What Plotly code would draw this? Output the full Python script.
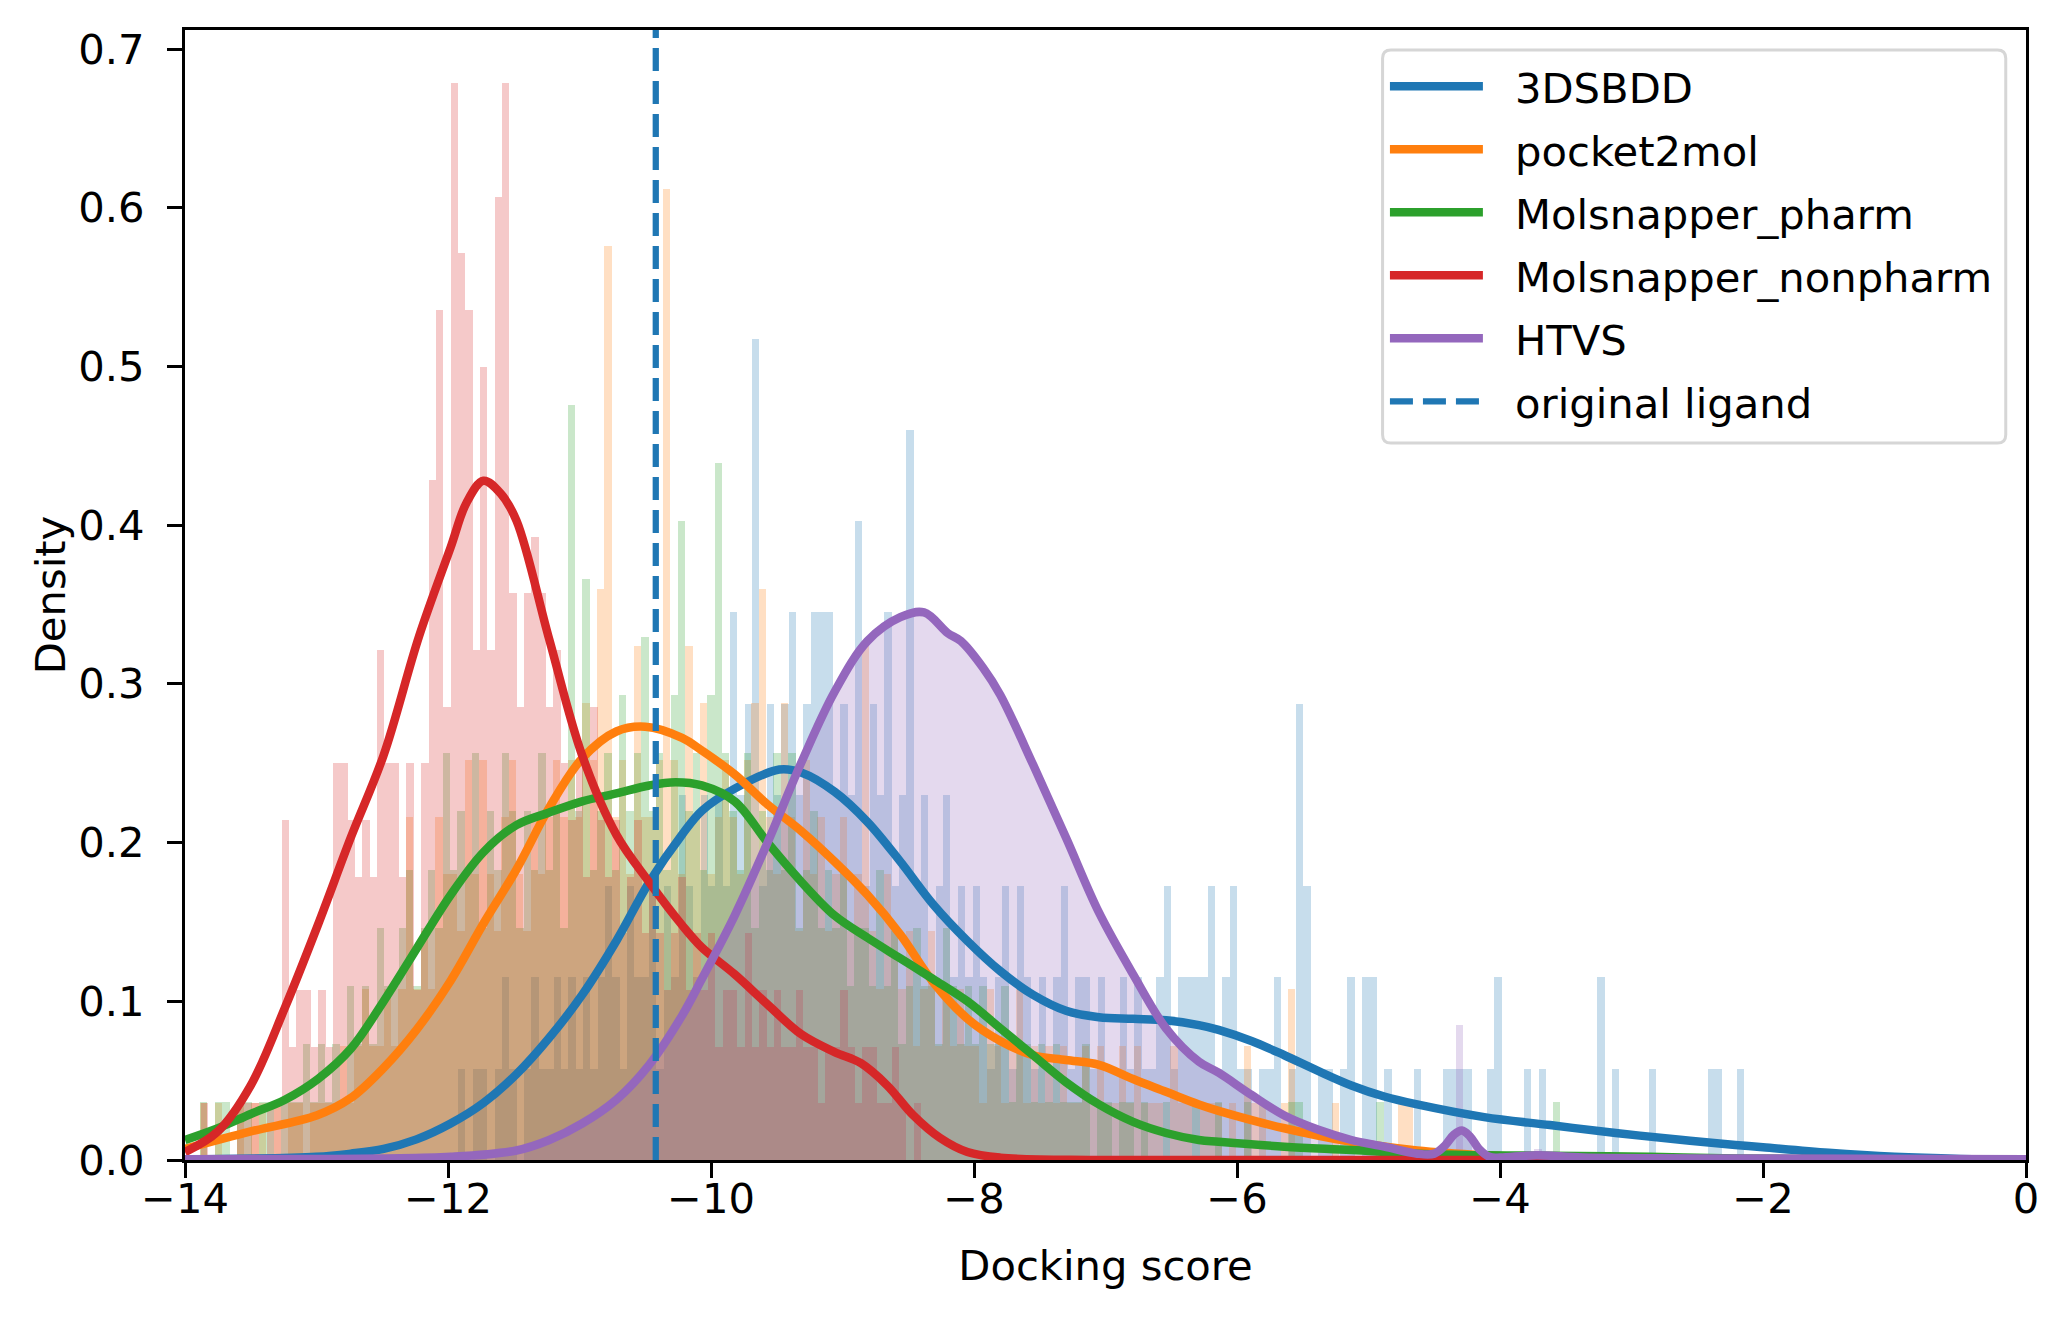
import numpy as np
import plotly.graph_objects as go

FONT = "DejaVu Sans"
FS = 41.7
Y_TOP = 0.712
BIN_W = 0.0559
ORIGINAL_LIGAND = -10.42

names = ["3DSBDD", "pocket2mol", "Molsnapper_pharm", "Molsnapper_nonpharm", "HTVS"]
colors = ["#1f77b4", "#ff7f0e", "#2ca02c", "#d62728", "#9467bd"]
fills = ["rgba(31,119,180,0.25)", "rgba(255,127,14,0.25)", "rgba(44,160,44,0.25)",
         "rgba(214,39,40,0.25)", "rgba(148,103,189,0.25)"]

# --- histograms: counts per bin (bin start, density of one count)
blue_start, blue_unit = -11.98, 0.0575
blue_counts = [
    0, 1, 0, 1, 1, 0, 1, 2, 1, 0, 1, 2, 1, 1, 2, 1, 2, 1,
    2, 1, 2, 3, 2, 1, 3, 2, 2, 3, 1, 3, 2, 4, 3, 2, 4, 3,
    4, 3, 6, 4, 5, 9, 3, 5, 4, 5, 6, 4, 5, 6, 6, 6, 4, 5,
    4, 7, 3, 5, 4, 6, 3, 4, 8, 3, 4, 2, 3, 4, 2, 3, 2, 3,
    2, 1, 2, 3, 1, 3, 2, 1, 2, 1, 2, 3, 1, 2, 2, 1, 2, 1,
    1, 2, 1, 2, 1, 1, 2, 3, 1, 2, 2, 2, 2, 3, 1, 2, 3, 1,
    1, 0, 1, 1, 2, 0, 1, 5, 3, 0, 1, 1, 0, 1, 2, 0, 2, 2,
    0, 1, 0, 0, 0, 1, 0, 0, 0, 1, 1, 1, 1, 0, 0, 1, 2, 0,
    0, 0, 1, 0, 1, 0, 0, 0, 0, 0, 0, 0, 2, 0, 1, 0, 0, 0,
    0, 1, 0, 0, 0, 0, 0, 0, 0, 1, 1, 0, 0, 1,
]

orange_start, orange_unit = -13.886, 0.036
orange_counts = [
    1, 0, 1, 0, 0, 1, 0, 1, 1, 0, 1, 0, 1, 1, 0, 1, 1, 1,
    1, 2, 1, 2, 3, 2, 2, 3, 2, 3, 6, 3, 4, 3, 6, 5, 5, 4,
    7, 5, 7, 5, 4, 6, 7, 5, 4, 6, 5, 6, 7, 6, 7, 6, 8, 7,
    10, 16, 6, 7, 5, 9, 6, 6, 7, 17, 7, 5, 9, 6, 8, 5, 6, 7,
    6, 5, 7, 8, 10, 6, 5, 8, 6, 4, 7, 5, 6, 4, 5, 6, 4, 5,
    9, 4, 3, 5, 4, 3, 4, 2, 3, 4, 2, 3, 2, 3, 2, 2, 1, 3,
    2, 1, 2, 3, 1, 2, 1, 2, 1, 2, 1, 1, 2, 1, 2, 1, 1, 2,
    1, 2, 1, 1, 1, 0, 2, 1, 1, 0, 1, 1, 1, 0, 1, 0, 2, 1,
    1, 0, 0, 1, 3, 0, 0, 0, 0, 0, 1, 0, 0, 0, 0, 0, 0, 0,
    0, 1, 1, 0,
]

green_start, green_unit = -13.885, 0.0366
green_counts = [
    1, 0, 1, 1, 0, 1, 1, 0, 1, 1, 0, 1, 1, 1, 2, 1, 2, 1,
    2, 1, 3, 2, 3, 2, 4, 3, 3, 4, 5, 3, 4, 5, 4, 7, 5, 6,
    5, 7, 4, 6, 5, 7, 6, 4, 6, 5, 7, 5, 6, 4, 13, 6, 10, 5,
    6, 7, 5, 8, 6, 7, 9, 6, 7, 5, 8, 11, 6, 7, 5, 8, 12, 7,
    6, 5, 7, 4, 6, 5, 7, 5, 7, 4, 5, 6, 4, 5, 4, 5, 3, 4,
    4, 3, 5, 3, 4, 2, 3, 4, 3, 3, 2, 4, 3, 2, 3, 2, 3, 2,
    2, 3, 1, 2, 2, 1, 2, 1, 2, 1, 1, 1, 2, 0, 1, 1, 0, 1,
    1, 0, 1, 0, 0, 1, 0, 0, 0, 1, 0, 0, 1, 0, 0, 0, 1, 0,
    0, 0, 0, 0, 1, 1, 0, 0, 0, 0, 0, 0, 0, 0, 0, 0, 1, 0,
    0, 0, 0, 0, 0, 0, 0, 0, 0, 0, 0, 0, 0, 0, 0, 0, 0, 0,
    0, 0, 0, 0, 1,
]

red_start, red_unit = -13.881, 0.0357
red_counts = [
    1, 0, 0, 0, 0, 1, 1, 1, 0, 1, 1,
    6, 2, 3, 3, 2, 3, 2, 7, 7, 6,
    5, 6, 5, 9, 7, 7, 5, 7, 3, 7,
    12, 15, 8, 19, 16, 15, 9, 14, 9, 17,
    19, 10, 8, 10, 11, 10, 8, 9, 7,
    6, 7, 5, 8, 6, 5, 6, 4, 5, 6, 4,
    5, 4, 3, 4, 5, 3, 4, 3, 4, 2,
    3, 3, 2, 4, 2, 3, 2, 3, 2, 2,
    3, 2, 2, 1, 2, 2, 3, 2, 1, 2,
    2, 1, 1, 2, 1, 0, 1,
]

# HTVS: dense sample, its histogram follows the KDE; only the stray bars stand out
purple_bar_x = [-4.31, -3.71]
purple_bar_y = [0.085, 0.007]

# --- KDE curves
blue_kde_x = [-14, -13.0, -12.74, -12.49, -12.24, -11.98, -11.73, -11.48, -11.23, -10.98,
              -10.72, -10.47, -10.22, -10.07, -9.82, -9.48, -9.31, -9.06, -8.81, -8.56,
              -8.31, -8.05, -7.8, -7.55, -7.3, -7.05, -6.79, -6.54, -6.29, -6.14,
              -5.89, -5.64, -5.38, -5.13, -4.88, -4.63, -4.12, -3.62, -3.12, -2.61,
              -2.21, -2.0, -1.5, -1.0, -0.5, 0]
blue_kde_y = [0.0003, 0.002, 0.004, 0.007, 0.013, 0.023, 0.036, 0.054, 0.077, 0.104,
              0.138, 0.175, 0.205, 0.22, 0.234, 0.246, 0.244, 0.232, 0.213, 0.188,
              0.161, 0.138, 0.119, 0.104, 0.094, 0.09, 0.089, 0.088, 0.085, 0.082,
              0.075, 0.066, 0.056, 0.047, 0.04, 0.035, 0.027, 0.022, 0.017, 0.0126,
              0.0095, 0.008, 0.0045, 0.002, 0.0007, 0.0002]

orange_kde_x = [-14, -13.5, -13.0, -12.74, -12.49, -12.24, -11.98, -11.73, -11.48, -11.23,
                -10.98, -10.72, -10.5, -10.22, -10.07, -9.82, -9.57, -9.31, -9.06, -8.81,
                -8.56, -8.31, -8.05, -7.8, -7.55, -7.3, -7.05, -6.79, -6.54, -6.29,
                -6.14, -5.64, -5.13, -4.63, -4.12, -3.5, -2.5, 0]
orange_kde_y = [0.007, 0.018, 0.028, 0.039, 0.058, 0.082, 0.113, 0.149, 0.183, 0.222,
                0.253, 0.27, 0.273, 0.266, 0.258, 0.243, 0.224, 0.207, 0.188, 0.167,
                0.142, 0.112, 0.089, 0.075, 0.066, 0.063, 0.06, 0.051, 0.043, 0.035,
                0.031, 0.02, 0.0115, 0.006, 0.003, 0.001, 0.0003, 0.0]

green_kde_x = [-14, -13.75, -13.5, -13.24, -12.99, -12.74, -12.49, -12.24, -11.98, -11.73,
               -11.48, -11.23, -10.98, -10.72, -10.47, -10.27, -10.07, -9.82, -9.57, -9.31,
               -9.06, -8.81, -8.56, -8.31, -8.05, -7.8, -7.55, -7.3, -7.05, -6.79,
               -6.54, -6.29, -6.14, -5.64, -5.13, -4.63, -4.12, -3.62, -2.86, -2.2,
               -1.0, 0]
green_kde_y = [0.0126, 0.02, 0.029, 0.038, 0.051, 0.07, 0.1, 0.133, 0.167, 0.194,
               0.211, 0.219, 0.226, 0.231, 0.236, 0.238, 0.236, 0.226, 0.2, 0.175,
               0.154, 0.14, 0.127, 0.114, 0.1, 0.083, 0.066, 0.049, 0.035, 0.024,
               0.017, 0.0126, 0.0115, 0.0084, 0.0063, 0.004, 0.003, 0.0027, 0.002, 0.001,
               0.0002, 0.0]

red_kde_x = [-14, -13.75, -13.5, -13.24, -12.99, -12.74, -12.49, -12.22, -11.98, -11.86,
             -11.73, -11.6, -11.48, -11.23, -10.98, -10.72, -10.47, -10.22, -10.07, -9.82,
             -9.57, -9.31, -9.06, -8.86, -8.66, -8.46, -8.26, -8.05, -7.8, -7.0, 0]
red_kde_y = [0.005, 0.018, 0.047, 0.096, 0.148, 0.203, 0.255, 0.33, 0.386, 0.414,
             0.428, 0.42, 0.403, 0.328, 0.255, 0.205, 0.175, 0.148, 0.134, 0.117,
             0.098, 0.079, 0.068, 0.061, 0.047, 0.028, 0.014, 0.005, 0.0015, 0.0, 0.0]

purple_kde_x = [-14, -12.5, -11.98, -11.48, -11.23, -10.98, -10.72, -10.47, -10.22, -10.07,
                -9.82, -9.57, -9.31, -9.06, -8.81, -8.56, -8.38, -8.2, -8.1, -7.93,
                -7.8, -7.55, -7.3, -7.05, -6.79, -6.54, -6.29, -6.14, -5.89, -5.64,
                -5.38, -5.13, -4.88, -4.63, -4.5, -4.42, -4.35, -4.29, -4.23, -4.16,
                -4.08, -4.0, -3.72, -3.37, -2.5, 0]
purple_kde_y = [0.0005, 0.001, 0.002, 0.006, 0.0126, 0.023, 0.038, 0.06, 0.091, 0.114,
                0.154, 0.2, 0.251, 0.295, 0.327, 0.342, 0.345, 0.332, 0.327, 0.31,
                0.293, 0.249, 0.203, 0.156, 0.117, 0.083, 0.062, 0.055, 0.041, 0.028,
                0.019, 0.0126, 0.0084, 0.004, 0.004, 0.009, 0.016, 0.0186, 0.015, 0.007,
                0.002, 0.0015, 0.003, 0.0015, 0.001, 0.0005]

hists = [
    (blue_start, blue_unit, blue_counts),
    (orange_start, orange_unit, orange_counts),
    (green_start, green_unit, green_counts),
    (red_start, red_unit, red_counts),
]
kdes = [
    (blue_kde_x, blue_kde_y),
    (orange_kde_x, orange_kde_y),
    (green_kde_x, green_kde_y),
    (red_kde_x, red_kde_y),
    (purple_kde_x, purple_kde_y),
]

KDE_W = 8.5
LIG_W = 6.25
LIG_DASH = "23px,10px"

fig = go.Figure()

for (start, unit, counts), fc in zip(hists, fills):
    counts = np.array(counts)
    centers = start + BIN_W * (np.arange(len(counts)) + 0.5)
    fig.add_trace(go.Bar(
        x=centers, y=counts * unit, width=BIN_W,
        marker=dict(color=fc, line=dict(width=0)),
        showlegend=False, hoverinfo="skip",
    ))
fig.add_trace(go.Bar(
    x=purple_bar_x, y=purple_bar_y, width=BIN_W,
    marker=dict(color=fills[4], line=dict(width=0)),
    showlegend=False, hoverinfo="skip",
))

# HTVS filled area under its curve
fig.add_trace(go.Scatter(
    x=purple_kde_x, y=purple_kde_y, mode="lines", fill="tozeroy",
    fillcolor=fills[4], line=dict(width=0, shape="spline"),
    showlegend=False, hoverinfo="skip",
))

for (kx, ky), name, c in zip(kdes, names, colors):
    fig.add_trace(go.Scatter(
        x=kx, y=ky, mode="lines", name=name, showlegend=False,
        line=dict(color=c, width=KDE_W, shape="spline", smoothing=1.0),
    ))

fig.add_trace(go.Scatter(
    x=[ORIGINAL_LIGAND, ORIGINAL_LIGAND], y=[0, Y_TOP], mode="lines",
    name="original ligand", showlegend=False,
    line=dict(color="#1f77b4", width=LIG_W, dash=LIG_DASH),
))

# legend box drawn matplotlib-style (long line handles), in paper coords
lx0, lx1, ly0, ly1 = 0.6505, 0.989, 0.6345, 0.9823
rx, ry = 0.0045, 0.0074
box_path = (f"M{lx0+rx},{ly0} L{lx1-rx},{ly0} Q{lx1},{ly0} {lx1},{ly0+ry} "
            f"L{lx1},{ly1-ry} Q{lx1},{ly1} {lx1-rx},{ly1} L{lx0+rx},{ly1} "
            f"Q{lx0},{ly1} {lx0},{ly1-ry} L{lx0},{ly0+ry} Q{lx0},{ly0} {lx0+rx},{ly0} Z")
shapes = [dict(type="path", path=box_path, xref="paper", yref="paper", layer="above",
               fillcolor="rgba(255,255,255,0.8)", line=dict(color="#d6d6d6", width=3))]
annotations = []
leg_labels = names + ["original ligand"]
leg_colors = colors + ["#1f77b4"]
row0, step = 0.9502, 0.05575
for i, (lab, c) in enumerate(zip(leg_labels, leg_colors)):
    yy = row0 - i * step
    dash = LIG_DASH if lab == "original ligand" else "solid"
    w = LIG_W if lab == "original ligand" else KDE_W
    shapes.append(dict(type="line", xref="paper", yref="paper", layer="above",
                       x0=0.6545, x1=0.705, y0=yy, y1=yy,
                       line=dict(color=c, width=w, dash=dash)))
    annotations.append(dict(text=lab, xref="paper", yref="paper", x=0.7215, y=yy - 0.002,
                            xanchor="left", yanchor="middle", showarrow=False,
                            font=dict(family=FONT, size=FS, color="black")))

axis_common = dict(
    showline=True, linecolor="black", linewidth=3.3, mirror=True,
    ticks="outside", ticklen=15, tickwidth=3.3, tickcolor="black",
    showgrid=False, zeroline=False,
    tickfont=dict(family=FONT, size=FS, color="black"),
    title_font=dict(family=FONT, size=FS, color="black"),
)

fig.update_layout(
    width=2070, height=1320,
    margin=dict(l=185, r=44, t=30, b=160),
    paper_bgcolor="white", plot_bgcolor="white",
    barmode="overlay", bargap=0, showlegend=False,
    font=dict(family=FONT, size=FS, color="black"),
    xaxis=dict(range=[-14, 0], dtick=2, title=dict(text="Docking score", standoff=29),
               ticklabelstandoff=-15, **axis_common),
    yaxis=dict(range=[0, Y_TOP], dtick=0.1, tickformat=".1f",
               title=dict(text="Density", standoff=0), ticklabelstandoff=14, **axis_common),
    shapes=shapes,
    annotations=annotations,
)

fig.write_html("out.html", config={"displayModeBar": False},
               post_script="document.body.style.margin='0px';")
